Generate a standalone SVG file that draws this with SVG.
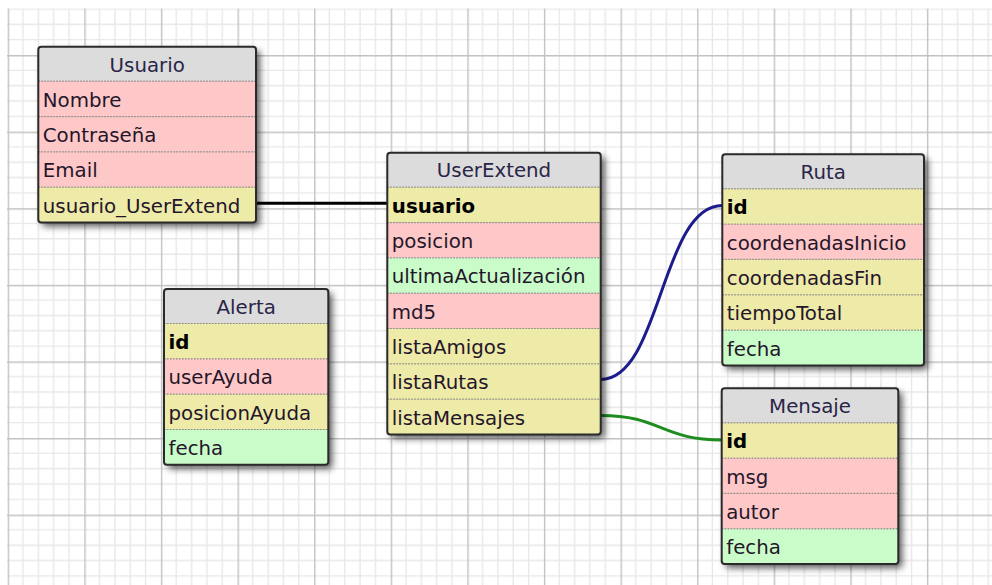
<svg xmlns="http://www.w3.org/2000/svg" width="992" height="585" viewBox="0 0 992 585">
  <defs>
    <!-- background grid: major cell with four minor subdivisions -->
    <pattern id="grid" patternUnits="userSpaceOnUse" x="7.7" y="-21.6" width="76.6" height="76.6">
      <g stroke="#e8e8e8" stroke-width="1.4">
        <line x1="15.32" y1="0" x2="15.32" y2="76.6"/>
        <line x1="30.64" y1="0" x2="30.64" y2="76.6"/>
        <line x1="45.96" y1="0" x2="45.96" y2="76.6"/>
        <line x1="61.28" y1="0" x2="61.28" y2="76.6"/>
        <line x1="0" y1="15.32" x2="76.6" y2="15.32"/>
        <line x1="0" y1="30.64" x2="76.6" y2="30.64"/>
        <line x1="0" y1="45.96" x2="76.6" y2="45.96"/>
        <line x1="0" y1="61.28" x2="76.6" y2="61.28"/>
      </g>
      <g stroke="#c2c2c2" stroke-width="1.4">
        <line x1="0.7" y1="0" x2="0.7" y2="76.6"/>
        <line x1="0" y1="0.7" x2="76.6" y2="0.7"/>
      </g>
    </pattern>
    <filter id="shadow" x="-20%" y="-20%" width="150%" height="150%">
      <feDropShadow dx="4" dy="4" stdDeviation="3.5" flood-color="#000" flood-opacity="0.65"/>
    </filter>
  </defs>
  <style>
    .shadowbox { fill: #888; filter: url(#shadow); }
    .border { fill: none; stroke: #2a2a2a; stroke-width: 2; }
    .head { fill: #dcdcdc; }
    .str { fill: #ffc8c8; }
    .num { fill: #eeeaa8; }
    .date { fill: #c9fcc9; }
    .sep { stroke: #8a8a8a; stroke-width: 1.2; stroke-dasharray: 1.5 1.5; }
    .title { font-family: "DejaVu Sans", Verdana, sans-serif; font-size: 19.8px; fill: #2a2448; text-anchor: middle; }
    .field { font-family: "DejaVu Sans", Verdana, sans-serif; font-size: 19.8px; fill: #24162a; }
    .pk { font-weight: bold; fill: #000; }
    .rel { fill: none; stroke-width: 3; }
  </style>

  <rect width="992" height="585" fill="#fff"/>
  <rect x="7" y="8.5" width="985" height="576.5" fill="url(#grid)"/>

  <!-- relations between fields -->
  <g id="connectors">
    <path class="rel" stroke="#000" d="M256,203.3 H388"/>
    <path class="rel" stroke="#1c1c8c" d="M600.7,379.5 C661,379.5 661,205.5 722.3,205.5"/>
    <path class="rel" stroke="#1e8c1e" d="M600.7,415.5 C661,415.5 661,440 722,440"/>
  </g>

  <!-- Usuario -->
  <g id="usuario">
    <rect class="shadowbox" x="38.3" y="46.7" width="217.7" height="175.8" rx="3"/>
    <rect class="head" x="38.3" y="46.7" width="217.7" height="34.5" rx="3"/>
    <rect class="str" x="38.3" y="81.2" width="217.7" height="35.33"/>
    <rect class="str" x="38.3" y="116.53" width="217.7" height="35.33"/>
    <rect class="str" x="38.3" y="151.86" width="217.7" height="35.33"/>
    <rect class="num" x="38.3" y="187.19" width="217.7" height="35.33"/>
    <line class="sep" x1="38.3" y1="81.2" x2="256" y2="81.2"/>
    <line class="sep" x1="38.3" y1="116.53" x2="256" y2="116.53"/>
    <line class="sep" x1="38.3" y1="151.86" x2="256" y2="151.86"/>
    <line class="sep" x1="38.3" y1="187.19" x2="256" y2="187.19"/>
    <rect class="border" x="38.3" y="46.7" width="217.7" height="175.8" rx="3"/>
    <text class="title" x="147.2" y="71.5">Usuario</text>
    <text class="field" x="42.8" y="106.7">Nombre</text>
    <text class="field" x="42.8" y="142">Contraseña</text>
    <text class="field" x="42.8" y="177.4">Email</text>
    <text class="field" x="42.8" y="212.7">usuario_UserExtend</text>
  </g>

  <!-- UserExtend -->
  <g id="userextend">
    <rect class="shadowbox" x="387.3" y="152.7" width="213.4" height="281.8" rx="3"/>
    <rect class="head" x="387.3" y="152.7" width="213.4" height="34.5" rx="3"/>
    <rect class="num" x="387.3" y="187.2" width="213.4" height="35.33"/>
    <rect class="str" x="387.3" y="222.53" width="213.4" height="35.33"/>
    <rect class="date" x="387.3" y="257.86" width="213.4" height="35.33"/>
    <rect class="str" x="387.3" y="293.19" width="213.4" height="35.33"/>
    <rect class="num" x="387.3" y="328.52" width="213.4" height="35.33"/>
    <rect class="num" x="387.3" y="363.85" width="213.4" height="35.33"/>
    <rect class="num" x="387.3" y="399.18" width="213.4" height="35.33"/>
    <line class="sep" x1="387.3" y1="187.2" x2="600.7" y2="187.2"/>
    <line class="sep" x1="387.3" y1="222.53" x2="600.7" y2="222.53"/>
    <line class="sep" x1="387.3" y1="257.86" x2="600.7" y2="257.86"/>
    <line class="sep" x1="387.3" y1="293.19" x2="600.7" y2="293.19"/>
    <line class="sep" x1="387.3" y1="328.52" x2="600.7" y2="328.52"/>
    <line class="sep" x1="387.3" y1="363.85" x2="600.7" y2="363.85"/>
    <line class="sep" x1="387.3" y1="399.18" x2="600.7" y2="399.18"/>
    <rect class="border" x="387.3" y="152.7" width="213.4" height="281.8" rx="3"/>
    <text class="title" x="494" y="177.2">UserExtend</text>
    <text class="field pk" x="391.8" y="212.7">usuario</text>
    <text class="field" x="391.8" y="248">posicion</text>
    <text class="field" x="391.8" y="283.4">ultimaActualización</text>
    <text class="field" x="391.8" y="318.7">md5</text>
    <text class="field" x="391.8" y="354">listaAmigos</text>
    <text class="field" x="391.8" y="389.4">listaRutas</text>
    <text class="field" x="391.8" y="424.7">listaMensajes</text>
  </g>

  <!-- Ruta -->
  <g id="ruta">
    <rect class="shadowbox" x="722.3" y="154.3" width="201.7" height="211.2" rx="3"/>
    <rect class="head" x="722.3" y="154.3" width="201.7" height="34.5" rx="3"/>
    <rect class="num" x="722.3" y="188.8" width="201.7" height="35.33"/>
    <rect class="str" x="722.3" y="224.13" width="201.7" height="35.33"/>
    <rect class="num" x="722.3" y="259.46" width="201.7" height="35.33"/>
    <rect class="num" x="722.3" y="294.79" width="201.7" height="35.33"/>
    <rect class="date" x="722.3" y="330.12" width="201.7" height="35.33"/>
    <line class="sep" x1="722.3" y1="188.8" x2="924" y2="188.8"/>
    <line class="sep" x1="722.3" y1="224.13" x2="924" y2="224.13"/>
    <line class="sep" x1="722.3" y1="259.46" x2="924" y2="259.46"/>
    <line class="sep" x1="722.3" y1="294.79" x2="924" y2="294.79"/>
    <line class="sep" x1="722.3" y1="330.12" x2="924" y2="330.12"/>
    <rect class="border" x="722.3" y="154.3" width="201.7" height="211.2" rx="3"/>
    <text class="title" x="823.2" y="178.8">Ruta</text>
    <text class="field pk" x="726.8" y="214.3">id</text>
    <text class="field" x="726.8" y="249.6">coordenadasInicio</text>
    <text class="field" x="726.8" y="285">coordenadasFin</text>
    <text class="field" x="726.8" y="320.3">tiempoTotal</text>
    <text class="field" x="726.8" y="355.6">fecha</text>
  </g>

  <!-- Alerta -->
  <g id="alerta">
    <rect class="shadowbox" x="164" y="289" width="164.3" height="175.8" rx="3"/>
    <rect class="head" x="164" y="289" width="164.3" height="34.5" rx="3"/>
    <rect class="num" x="164" y="323.5" width="164.3" height="35.33"/>
    <rect class="str" x="164" y="358.83" width="164.3" height="35.33"/>
    <rect class="num" x="164" y="394.16" width="164.3" height="35.33"/>
    <rect class="date" x="164" y="429.49" width="164.3" height="35.33"/>
    <line class="sep" x1="164" y1="323.5" x2="328.3" y2="323.5"/>
    <line class="sep" x1="164" y1="358.83" x2="328.3" y2="358.83"/>
    <line class="sep" x1="164" y1="394.16" x2="328.3" y2="394.16"/>
    <line class="sep" x1="164" y1="429.49" x2="328.3" y2="429.49"/>
    <rect class="border" x="164" y="289" width="164.3" height="175.8" rx="3"/>
    <text class="title" x="246.2" y="313.5">Alerta</text>
    <text class="field pk" x="168.5" y="349">id</text>
    <text class="field" x="168.5" y="384.3">userAyuda</text>
    <text class="field" x="168.5" y="419.7">posicionAyuda</text>
    <text class="field" x="168.5" y="455">fecha</text>
  </g>

  <!-- Mensaje -->
  <g id="mensaje">
    <rect class="shadowbox" x="721.7" y="388.3" width="176.6" height="175.8" rx="3"/>
    <rect class="head" x="721.7" y="388.3" width="176.6" height="34.5" rx="3"/>
    <rect class="num" x="721.7" y="422.8" width="176.6" height="35.33"/>
    <rect class="str" x="721.7" y="458.13" width="176.6" height="35.33"/>
    <rect class="str" x="721.7" y="493.46" width="176.6" height="35.33"/>
    <rect class="date" x="721.7" y="528.79" width="176.6" height="35.33"/>
    <line class="sep" x1="721.7" y1="422.8" x2="898.3" y2="422.8"/>
    <line class="sep" x1="721.7" y1="458.13" x2="898.3" y2="458.13"/>
    <line class="sep" x1="721.7" y1="493.46" x2="898.3" y2="493.46"/>
    <line class="sep" x1="721.7" y1="528.79" x2="898.3" y2="528.79"/>
    <rect class="border" x="721.7" y="388.3" width="176.6" height="175.8" rx="3"/>
    <text class="title" x="810" y="412.8">Mensaje</text>
    <text class="field pk" x="726.2" y="448.3">id</text>
    <text class="field" x="726.2" y="483.6">msg</text>
    <text class="field" x="726.2" y="519">autor</text>
    <text class="field" x="726.2" y="554.3">fecha</text>
  </g>
</svg>
